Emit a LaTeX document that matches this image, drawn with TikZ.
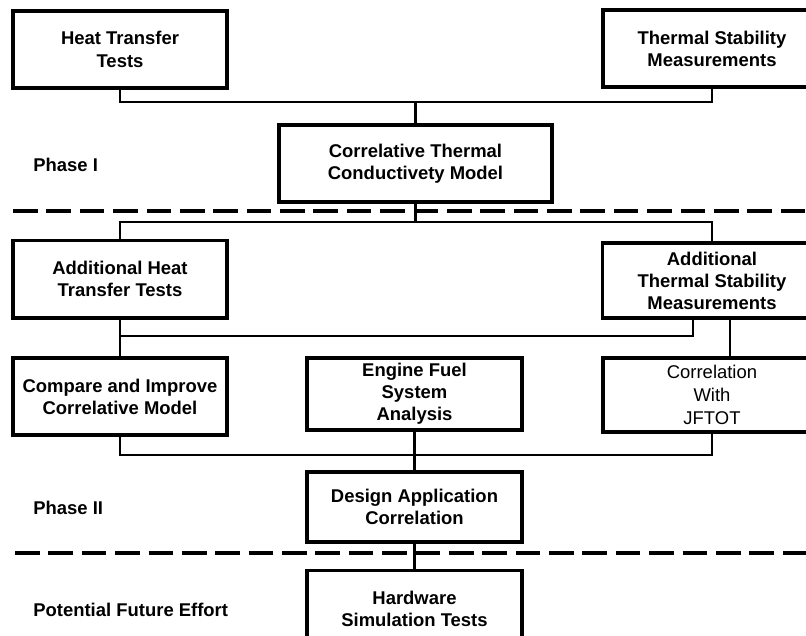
\documentclass[tikz,border=0pt]{standalone}
\usepackage{fontspec}
\setmainfont{Liberation Sans}
\usetikzlibrary{positioning}

\begin{document}
\begin{tikzpicture}[x=0.02cm,y=-0.02cm,
    box/.style={rectangle, draw, line width=2pt, minimum width=4.28cm, minimum height=1.55cm, align=center, inner sep=1pt, font=\bfseries\fontsize{10.5}{12.5}\selectfont},
    link/.style={line width=1.5pt},
    phase/.style={line width=2.5pt, dash pattern=on 14pt off 5pt},
    lbl/.style={anchor=west, inner sep=0pt, font=\bfseries\fontsize{10.5}{12.5}\selectfont}]
    \useasboundingbox (0,0) rectangle (806,636);
    \clip (0,0) rectangle (806,636);

    \node(heat) [box, font=\bfseries\fontsize{10.5}{13}\selectfont] at (120,49.5) {Heat Transfer\\Tests};
    \node(thermal) [box, minimum width=4.36cm] at (712,48.5) {Thermal Stability\\Measurements};
    \node(model) [box, minimum width=5.46cm] at (415.5,163.5) {Correlative Thermal\\Conductivety Model};
    \node(addheat) [box] at (120,279) {Additional Heat\\Transfer Tests};
    \node(addtherm) [box, minimum width=4.38cm, minimum height=1.5cm] at (712,280.5) {Additional\\Thermal Stability\\Measurements};
    \node(compare) [box] at (120,396.5) {Compare and Improve\\Correlative Model};
    \node(engine) [box, minimum width=4.3cm, minimum height=1.44cm] at (414.5,394) {Engine Fuel\\System\\Analysis};
    \node(jftot) [box, minimum width=4.36cm, minimum height=1.48cm, font=\fontsize{10.5}{13}\selectfont] at (712,395) {Correlation\\With\\JFTOT};
    \node(design) [box, minimum width=4.3cm, minimum height=1.4cm] at (414.5,507) {Design Application\\Correlation};
    \node(hardware) [box, minimum width=4.3cm, minimum height=1.54cm, below=0.5cm of design] {Hardware\\Simulation Tests};

    \node(ph1) [lbl] at (33,165) {Phase I};
    \node(ph2) [lbl] at (33,508) {Phase II};
    \node(future) [lbl] at (33,610) {Potential Future Effort};

    % phase boundaries
    \draw[phase] (13,211) -- (806,211);
    \draw[phase] (15,553) -- (806,553);

    \coordinate (bus1) at (415.5,102);
    \draw[link] (heat.south) |- (bus1) -| (thermal.south);
    \draw[link] (bus1) -- (model.north);

    \coordinate (bus2) at (415.5,222);
    \draw[link] (model.south) -- (bus2);
    \draw[link] (addheat.north) |- (bus2) -| (addtherm.north);

    \coordinate (bus3) at (120,336);
    \draw[link] (addheat.south) -- (compare.north);
    \draw[link] (bus3) -| ([xshift=-0.38cm]addtherm.south);
    \draw[link] ([xshift=0.36cm]addtherm.south) -- ([xshift=0.36cm]jftot.north);

    \coordinate (bus4) at (414.5,455);
    \draw[link] (compare.south) |- (bus4) -| (jftot.south);
    \draw[link] (engine.south) -- (design.north);
    \draw[link] (design.south) -- (hardware.north);
  \end{tikzpicture}
\end{document}
